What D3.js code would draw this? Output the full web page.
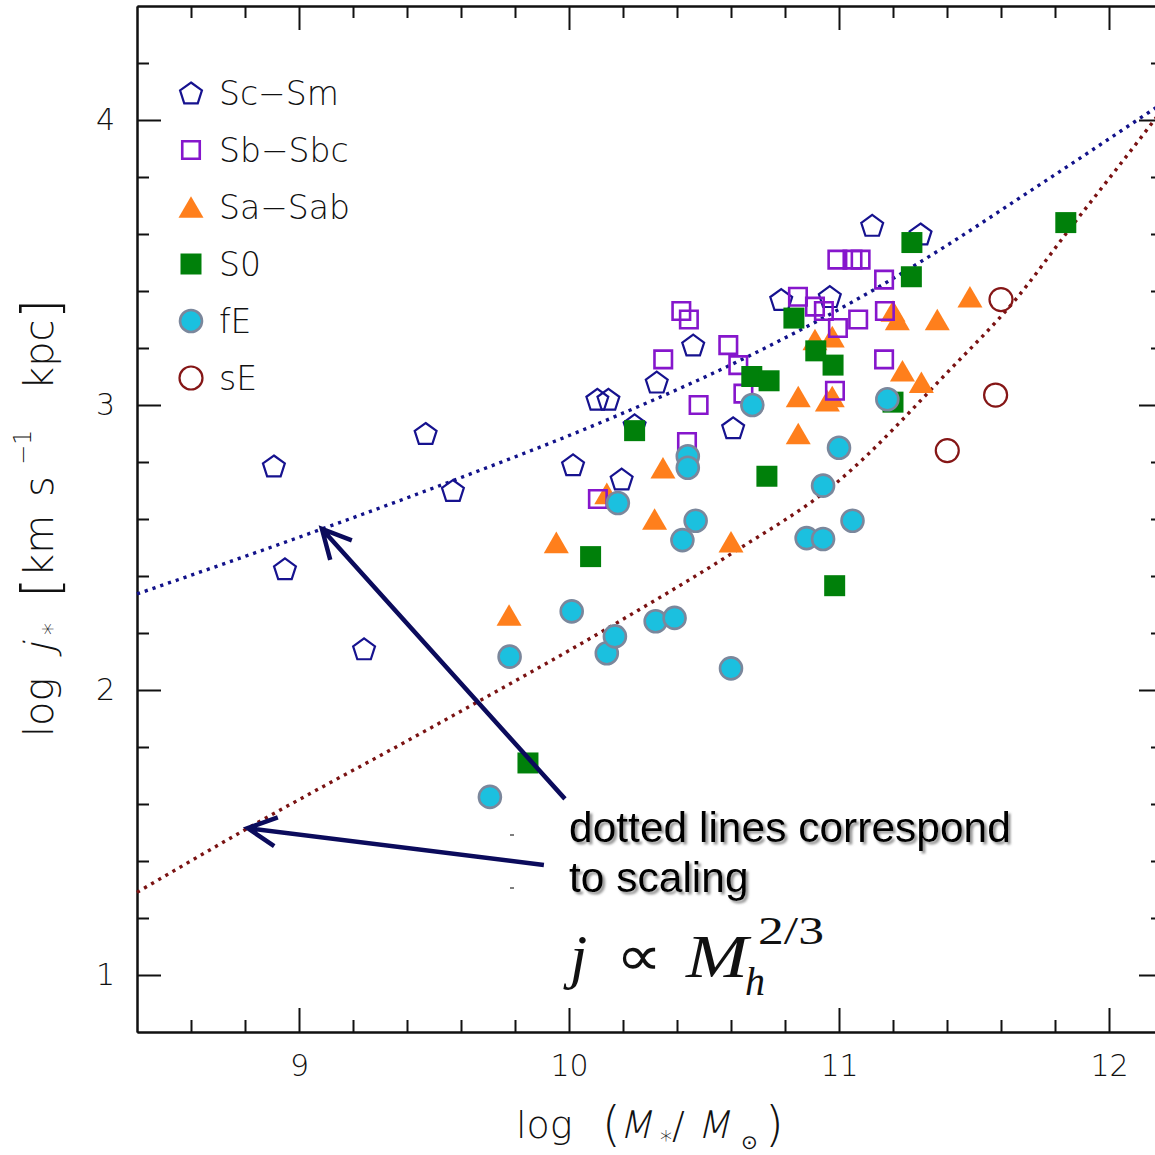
<!DOCTYPE html>
<html>
<head>
<meta charset="utf-8">
<script src="https://cdn.jsdelivr.net/npm/d3@7/dist/d3.min.js"></script>
<style>
body { margin: 0; background: #fff; }
svg { display: block; }
.axis text { font-family: "DejaVu Sans", sans-serif; font-weight: 200; font-size: 30px; fill: #111; }
.axis line, .axis path { stroke: #111; stroke-width: 2px; }
.lbl { font-family: "DejaVu Sans", sans-serif; font-weight: 200; fill: #111; }
.note { font-family: "Liberation Sans", Arial, sans-serif; font-size: 42.5px; fill: #000; }
.tex { font-family: "Liberation Serif", "Times New Roman", serif; fill: #111; }
</style>
</head>
<body>
<svg id="chart" width="1155" height="1155"></svg>
<script>
// Points:  [ log M* , log j* ]
var scSm = [[8.907,2.786],[8.948,2.425],[9.241,2.144],[9.469,2.90],[9.570,2.70],[10.015,2.79],
	[10.105,3.02],[10.146,3.02],[10.195,2.74],[10.243,2.93],[10.325,3.08],[10.46,3.21],
	[10.608,2.92],[10.786,3.37],[10.966,3.38],[11.123,3.63],[11.302,3.60]];
var sbSbc = [[10.107,2.67],[10.349,3.16],[10.416,3.33],[10.444,3.30],[10.437,2.87],[10.48,3.00],
	[10.59,3.21],[10.627,3.14],[10.646,3.04],[10.848,3.38],[10.911,3.345],[10.944,3.33],
	[10.996,3.27],[10.985,3.05],[10.994,3.51],[11.05,3.51],[11.08,3.51],[11.071,3.30],
	[11.167,3.44],[11.17,3.33],[11.167,3.16]];
var saSab = [[9.778,2.263],[9.953,2.518],[10.14,2.69],[10.317,2.60],[10.348,2.78],[10.60,2.52],
	[10.849,3.03],[10.849,2.90],[10.911,3.23],[10.975,3.24],[10.957,3.015],[10.975,3.03],
	[11.20,3.33],[11.216,3.30],[11.235,3.12],[11.305,3.08],[11.364,3.30],[11.485,3.38]];
var s0 = [[9.848,1.744],[10.08,2.468],[10.243,2.91],[10.677,3.10],[10.741,3.085],[10.733,2.75],
	[10.833,3.305],[10.914,3.19],[10.978,3.14],[10.984,2.366],[11.2,3.01],[11.268,3.45],
	[11.27,3.57],[11.84,3.64]];
var fE = [[9.707,1.625],[9.78,2.117],[10.01,2.276],[10.14,2.129],[10.17,2.188],[10.181,2.656],
	[10.321,2.241],[10.391,2.253],[10.42,2.526],[10.44,2.82],[10.44,2.78],[10.469,2.594],
	[10.60,2.076],[10.679,3.00],[10.88,2.533],[10.941,2.53],[10.941,2.717],[11.0,2.85],
	[11.05,2.594],[11.179,3.02]];
var sE = [[11.401,2.84],[11.58,3.035],[11.60,3.37]];

// the two j ~ Mh^(2/3) scaling curves (dotted)
var blueLine = [[8.4,2.337],[9.085,2.565],[9.585,2.74],[10.174,2.961],[10.667,3.172],
	[11.197,3.442],[11.426,3.576],[11.654,3.717],[12.2,4.06]];
var redLine = [[8.4,1.29],[8.81,1.515],[9.507,1.877],[10.185,2.24],[10.604,2.48],[10.994,2.73],
	[11.407,3.12],[11.654,3.37],[11.845,3.606],[12.16,3.99],[12.2,4.04]];

var seriesNames = ["Sc\u2212Sm", "Sb\u2212Sbc", "Sa\u2212Sab", "S0", "fE", "sE"];
var seriesData = [scSm, sbSbc, saSab, s0, fE, sE];

var majorX = [9, 10, 11, 12];
var minorX = [8.6, 8.8, 9.2, 9.4, 9.6, 9.8, 10.2, 10.4, 10.6, 10.8, 11.2, 11.4, 11.6, 11.8];
var majorY = [1, 2, 3, 4];
var minorY = [1.2, 1.4, 1.6, 1.8, 2.2, 2.4, 2.6, 2.8, 3.2, 3.4, 3.6, 3.8, 4.2];

// arrows pointing at the curves (tail -> tip)
var arrowTails = [[9.985, 1.618], [9.907, 1.386]];
var arrowTips = [[9.085, 2.565], [8.81, 1.515]];

var svg = d3.select("#chart");
var plotLeft = 137, plotRight = 1163, plotTop = 6, plotBottom = 1032;

var x = d3.scaleLinear().domain([8.4, 12.2]).range([plotLeft, plotRight]);
var y = d3.scaleLinear().domain([0.8, 4.4]).range([plotBottom, plotTop]);

// custom marker shapes
var pentagon = {
	draw: function(ctx, r) {
		for (var i = 0; i < 5; i++) {
			var a = -Math.PI / 2 + i * 2 * Math.PI / 5;
			if (i == 0) ctx.moveTo(r * Math.cos(a), r * Math.sin(a) + 1);
			else ctx.lineTo(r * Math.cos(a), r * Math.sin(a) + 1);
		}
		ctx.closePath();
	}
};
var triangle = {
	draw: function(ctx, w) {
		var h = w * 0.866;
		ctx.moveTo(0, -h / 2);
		ctx.lineTo(w / 2, h / 2);
		ctx.lineTo(-w / 2, h / 2);
		ctx.closePath();
	}
};
var square = {
	draw: function(ctx, s) {
		ctx.rect(-s / 2, -s / 2, s, s);
	}
};
var circle = {
	draw: function(ctx, r) {
		ctx.moveTo(r, 0);
		ctx.arc(0, 0, r, 0, 2 * Math.PI);
	}
};

var styles = [
	{ type: pentagon, size: 11.5, fill: "none", stroke: "#16128f", sw: 2.2 },
	{ type: square, size: 17.5, fill: "none", stroke: "#8616cc", sw: 2.6 },
	{ type: triangle, size: 25, fill: "#ff7f1c", stroke: "none", sw: 0 },
	{ type: square, size: 21, fill: "#00800a", stroke: "none", sw: 0 },
	{ type: circle, size: 11, fill: "#1bc0df", stroke: "#7b879c", sw: 2.6 },
	{ type: circle, size: 11.5, fill: "none", stroke: "#851616", sw: 2.2 }
];

// --- axes: major + minor ticks on all four sides, pointing inward
function addAxis(axisFn, transform, values, len, labels) {
	var ax = axisFn.tickValues(values).tickSize(-len).tickSizeOuter(0);
	if (labels) ax.tickPadding(labels).tickFormat(d3.format("d"));
	else ax.tickFormat("");
	svg.append("g").attr("class", "axis").attr("transform", transform).call(ax);
}
addAxis(d3.axisBottom(x), "translate(0," + plotBottom + ")", majorX, 24, 23);
addAxis(d3.axisBottom(x), "translate(0," + plotBottom + ")", minorX, 12, 0);
addAxis(d3.axisTop(x), "translate(0," + plotTop + ")", majorX, 24, 0);
addAxis(d3.axisTop(x), "translate(0," + plotTop + ")", minorX, 12, 0);
addAxis(d3.axisLeft(y), "translate(" + plotLeft + ",0)", majorY, 24, 22);
addAxis(d3.axisLeft(y), "translate(" + plotLeft + ",0)", minorY, 12, 0);
addAxis(d3.axisRight(y), "translate(" + plotRight + ",0)", majorY, 24, 0);
addAxis(d3.axisRight(y), "translate(" + plotRight + ",0)", minorY, 12, 0);

// --- dotted scaling curves (under the points)
var line = d3.line()
	.x(function(d) { return x(d[0]); })
	.y(function(d) { return y(d[1]); })
	.curve(d3.curveMonotoneX);
svg.append("path").datum(blueLine).attr("d", line)
	.attr("fill", "none").attr("stroke", "#12128a").attr("stroke-width", 3.4)
	.attr("stroke-dasharray", "3.2 5");
svg.append("path").datum(redLine).attr("d", line)
	.attr("fill", "none").attr("stroke", "#7a1212").attr("stroke-width", 3.4)
	.attr("stroke-dasharray", "3.2 5");

// --- points, drawn in the order the original stacks them
var drawOrder = [0, 2, 1, 3, 4, 5];
drawOrder.forEach(function(k) {
	var st = styles[k];
	var sym = d3.symbol().type(st.type).size(st.size);
	svg.append("g").selectAll("path")
		.data(seriesData[k])
		.enter().append("path")
		.attr("d", sym)
		.attr("transform", function(d) { return "translate(" + x(d[0]) + "," + y(d[1]) + ")"; })
		.attr("fill", st.fill)
		.attr("stroke", st.stroke)
		.attr("stroke-width", st.sw);
});

// --- legend
var legend = svg.append("g");
seriesNames.forEach(function(name, i) {
	var st = styles[i];
	var cy = 93 + i * 57;
	legend.append("path")
		.attr("d", d3.symbol().type(st.type).size(st.size)())
		.attr("transform", "translate(191," + cy + ")")
		.attr("fill", st.fill).attr("stroke", st.stroke).attr("stroke-width", st.sw);
	legend.append("text").attr("class", "lbl")
		.attr("x", 219).attr("y", cy + 12)
		.attr("font-size", 33)
		.text(name);
});

// one piece of a label; the light face has no italic, so slant it by hand
function piece(g, txt, px, py, fs, slant, len) {
	var t = g.append("text").attr("font-size", fs).text(txt);
	if (slant) t.attr("transform", "translate(" + px + "," + py + ") skewX(-13)");
	else t.attr("x", px).attr("y", py);
	if (len) t.attr("textLength", len).attr("lengthAdjust", "spacingAndGlyphs");
	return t;
}

// --- axis titles
var xt = svg.append("g").attr("class", "lbl");
piece(xt, "log", 516, 1138, 38);
piece(xt, "(", 602, 1141, 48);
piece(xt, "M", 619, 1138, 38, true);
piece(xt, "*", 660, 1148, 24);
piece(xt, "/", 672, 1138, 38);
piece(xt, "M", 697, 1138, 38, true);
piece(xt, "\u2299", 741, 1149, 20);
piece(xt, ")", 765, 1141, 48);

var yt = svg.append("g").attr("class", "lbl").attr("transform", "rotate(-90)");
piece(yt, "log", -737, 53, 40);
piece(yt, "j", -654, 53, 40, true);
piece(yt, "*", -635, 60, 24);
piece(yt, "[", -598, 58, 52);
piece(yt, "km", -577, 53, 40);
piece(yt, "s", -497, 53, 40);
piece(yt, "\u22121", -465, 31, 24);
piece(yt, "kpc", -390, 53, 40);
piece(yt, "]", -319, 58, 52);

// --- arrows
var arrowColor = "#0b0b5c";
arrowTails.forEach(function(t, i) {
	var x0 = x(t[0]), y0 = y(t[1]);
	var x1 = x(arrowTips[i][0]), y1 = y(arrowTips[i][1]);
	var a = Math.atan2(y0 - y1, x0 - x1);
	var len = 32, spread = 27 * Math.PI / 180;
	var p = d3.path();
	p.moveTo(x0, y0);
	p.lineTo(x1, y1);
	p.moveTo(x1 + len * Math.cos(a - spread), y1 + len * Math.sin(a - spread));
	p.lineTo(x1, y1);
	p.lineTo(x1 + len * Math.cos(a + spread), y1 + len * Math.sin(a + spread));
	svg.append("path").attr("d", p.toString())
		.attr("fill", "none").attr("stroke", arrowColor)
		.attr("stroke-width", 4.5).attr("stroke-linejoin", "miter");
});

// small stray marks left of the note
svg.append("line").attr("x1", 510).attr("x2", 514).attr("y1", 835).attr("y2", 835)
	.attr("stroke", "#555").attr("stroke-width", 1.5);
svg.append("line").attr("x1", 510).attr("x2", 514).attr("y1", 888).attr("y2", 888)
	.attr("stroke", "#555").attr("stroke-width", 1.5);

// --- the note with shadowed text
var defs = svg.append("defs");
var f = defs.append("filter").attr("id", "shadow")
	.attr("x", "-5%").attr("y", "-20%").attr("width", "115%").attr("height", "150%");
f.append("feDropShadow").attr("dx", 2.5).attr("dy", 2.5).attr("stdDeviation", 1.2)
	.attr("flood-color", "#777").attr("flood-opacity", 0.8);

svg.append("text").attr("class", "note").attr("x", 569).attr("y", 842)
	.attr("filter", "url(#shadow)").text("dotted lines correspond");
svg.append("text").attr("class", "note").attr("x", 569).attr("y", 892)
	.attr("filter", "url(#shadow)").text("to scaling");

// j ∝ Mh^(2/3)
var tex = svg.append("g").attr("class", "tex");
tex.append("text").attr("x", 570).attr("y", 977).attr("font-size", 62)
	.attr("font-style", "italic").text("j");
tex.append("text").attr("x", 616).attr("y", 975).attr("font-size", 56)
	.attr("textLength", 46).attr("lengthAdjust", "spacingAndGlyphs").text("\u221D");
tex.append("text").attr("x", 686).attr("y", 977).attr("font-size", 62)
	.attr("font-style", "italic").attr("textLength", 62).attr("lengthAdjust", "spacingAndGlyphs").text("M");
tex.append("text").attr("x", 745).attr("y", 995).attr("font-size", 40)
	.attr("font-style", "italic").text("h");
tex.append("text").attr("x", 758).attr("y", 944).attr("font-size", 40)
	.attr("textLength", 66).attr("lengthAdjust", "spacingAndGlyphs").text("2/3");
</script>
</body>
</html>
